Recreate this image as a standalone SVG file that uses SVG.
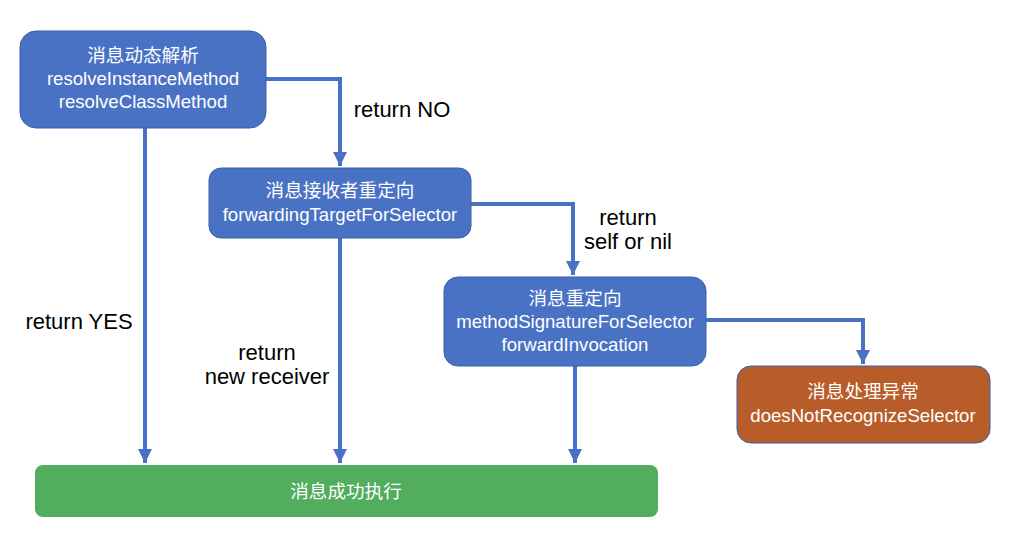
<svg xmlns="http://www.w3.org/2000/svg" width="1009" height="557" viewBox="0 0 1009 557">
<defs>
<marker id="ah" viewBox="0 0 10 10" refX="10" refY="5" markerWidth="3.6" markerHeight="3.8" orient="auto" markerUnits="strokeWidth">
<path d="M0,0 L10,5 L0,10 z" fill="#4a72c4"/>
</marker>
<style>
.blue{fill:#4a72c4;stroke:#3b5fa8;stroke-width:1}
.orange{fill:#b85c2a;stroke:#3b5fa8;stroke-width:1}
.green{fill:#52ad5e;stroke:none}
.nt{font-family:"Liberation Sans","Noto Sans CJK SC",sans-serif;font-size:18.6px;fill:#fff;text-anchor:middle}
.lb{font-family:"Liberation Sans","Noto Sans CJK SC",sans-serif;font-size:22px;fill:#000;text-anchor:middle}
.c{fill:none;stroke:#4a72c4;stroke-width:4;marker-end:url(#ah)}
</style>
</defs>
<rect width="1009" height="557" fill="#fff"/>
<g id="connectors">
<path class="c" d="M266,79 H340 V166"/>
<path class="c" d="M145,128 V463"/>
<path class="c" d="M471,204 H573 V275"/>
<path class="c" d="M340,238 V463"/>
<path class="c" d="M706,320 H863 V364"/>
<path class="c" d="M575,366 V463"/>
</g>
<g id="labels">
<text class="lb" x="402" y="117">return NO</text>
<text class="lb" x="628" y="225">return</text>
<text class="lb" x="628" y="249">self or nil</text>
<text class="lb" x="79" y="329">return YES</text>
<text class="lb" x="267" y="360">return</text>
<text class="lb" x="267" y="384">new receiver</text>
</g>
<g id="n1">
<rect class="blue" x="20" y="31" width="246" height="97" rx="16"/>
<text class="nt" x="143" y="62">消息动态解析</text>
<text class="nt" x="143" y="85">resolveInstanceMethod</text>
<text class="nt" x="143" y="108">resolveClassMethod</text>
</g>
<g id="n2">
<rect class="blue" x="209" y="168" width="262" height="70" rx="12"/>
<text class="nt" x="340" y="197">消息接收者重定向</text>
<text class="nt" x="340" y="221">forwardingTargetForSelector</text>
</g>
<g id="n3">
<rect class="blue" x="444" y="277" width="262" height="89" rx="14"/>
<text class="nt" x="575" y="305">消息重定向</text>
<text class="nt" x="575" y="328">methodSignatureForSelector</text>
<text class="nt" x="575" y="351">forwardInvocation</text>
</g>
<g id="n4">
<rect class="orange" x="737" y="366" width="253" height="77" rx="14"/>
<text class="nt" x="863" y="398">消息处理异常</text>
<text class="nt" x="863" y="422">doesNotRecognizeSelector</text>
</g>
<g id="n5">
<rect class="green" x="35" y="465" width="623" height="52" rx="8"/>
<text class="nt" x="346" y="498">消息成功执行</text>
</g>
</svg>
